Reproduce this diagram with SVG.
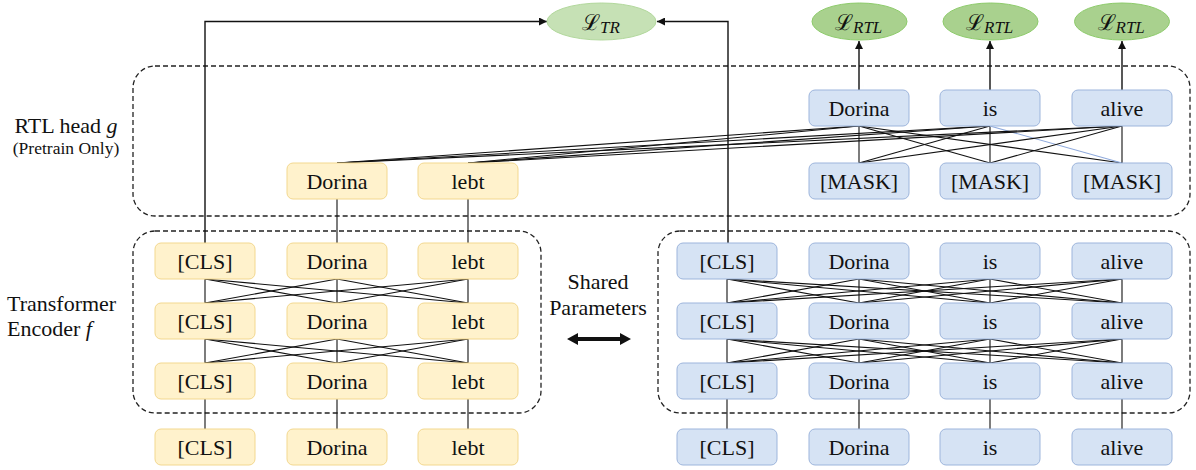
<svg xmlns="http://www.w3.org/2000/svg" width="1196" height="470" viewBox="0 0 1196 470">
<style>
  .txt { font-family: "Liberation Serif", "Times New Roman", serif; font-size: 22px; fill: #111; }
  .small { font-size: 17.5px; }
  .mid { font-size: 20px; }
  .box-y { fill: #fff2cc; stroke: #f3d88f; stroke-width: 1; }
  .box-b { fill: #d6e3f4; stroke: #9db5dc; stroke-width: 1; }
  .lbl { font-family: "Liberation Serif", "Times New Roman", serif; font-size: 22px; fill: #111; text-anchor: middle; }
  .dash { fill: none; stroke: #222; stroke-width: 1.3; stroke-dasharray: 5 3; }
  .ln { stroke: #111; stroke-width: 1.1; fill: none; }
  .arr { stroke: #111; stroke-width: 1.4; fill: none; marker-end: url(#ah); }
  .math { font-family: "DejaVu Serif", "Liberation Serif", serif; font-size: 22px; fill: #111; }
  .sub { font-family: "Liberation Serif", serif; font-style: italic; font-size: 17px; }
</style>
<defs>
  <marker id="ah" viewBox="0 0 10 10" refX="10" refY="5" markerWidth="8" markerHeight="8" markerUnits="userSpaceOnUse" orient="auto">
    <path d="M0,0 L10,5 L0,10 z" fill="#111"/>
  </marker>
</defs>
<rect width="1196" height="470" fill="#ffffff"/>

<!-- side labels -->
<g id="label-rtl-head">
  <text class="txt" x="66" y="133" text-anchor="middle">RTL head <tspan font-style="italic">g</tspan></text>
  <text class="txt small" x="66" y="154" text-anchor="middle">(Pretrain Only)</text>
</g>
<g id="label-encoder">
  <text class="txt" x="7" y="311">Transformer</text>
  <text class="txt" x="7" y="336">Encoder <tspan font-style="italic">f</tspan></text>
</g>
<g id="label-shared">
  <text class="lbl mid" x="598" y="289">Shared</text>
  <text class="lbl mid" x="598" y="315">Parameters</text>
  <polygon points="567,339 578,333 578,337 620,337 620,333 631,339 620,345 620,341 578,341 578,345" fill="#111"/>
</g>

<!-- group containers -->
<g id="rtl-head-container"><rect class="dash" x="133" y="66" width="1057" height="150" rx="22"/></g>
<g id="left-encoder-container"><rect class="dash" x="133" y="231" width="408" height="182" rx="22"/></g>
<g id="right-encoder-container"><rect class="dash" x="658" y="231" width="532" height="182" rx="22"/></g>

<!-- connectors -->
<g id="connectors">
  <!-- to L_TR -->
  <path class="arr" d="M205,243 V21.5 H547"/>
  <path class="arr" d="M728,243 V21.5 H657"/>
  <!-- to L_RTL -->
  <line class="arr" x1="859" y1="90" x2="859" y2="41"/>
  <line class="arr" x1="990" y1="90" x2="990" y2="41"/>
  <line class="arr" x1="1122" y1="90" x2="1122" y2="41"/>

  <!-- RTL head: top row to [MASK] row -->
  <line class="ln" x1="859" y1="126" x2="859" y2="163"/>
  <line class="ln" x1="859" y1="126" x2="990" y2="163"/>
  <line class="ln" x1="859" y1="126" x2="1122" y2="163"/>
  <line class="ln" x1="990" y1="126" x2="859" y2="163"/>
  <line class="ln" x1="990" y1="126" x2="990" y2="163"/>
  <line x1="990" y1="126" x2="1122" y2="163" stroke="#8faadc" stroke-width="1.1"/>
  <line class="ln" x1="1122" y1="126" x2="859" y2="163"/>
  <line class="ln" x1="1122" y1="126" x2="990" y2="163"/>
  <line class="ln" x1="1122" y1="126" x2="1122" y2="163"/>
  <!-- RTL head: top row to yellow boxes -->
  <line class="ln" x1="859" y1="126" x2="337" y2="163"/>
  <line class="ln" x1="990" y1="126" x2="337" y2="163"/>
  <line class="ln" x1="1122" y1="126" x2="337" y2="163"/>
  <line class="ln" x1="859" y1="126" x2="468" y2="163"/>
  <line class="ln" x1="990" y1="126" x2="468" y2="163"/>
  <line class="ln" x1="1122" y1="126" x2="468" y2="163"/>

  <!-- yellow RTL boxes down to left encoder -->
  <line class="ln" x1="337" y1="199" x2="337" y2="243"/>
  <line class="ln" x1="468" y1="199" x2="468" y2="243"/>

  <!-- left encoder layers -->
  <g id="left-l1-l2">
    <line class="ln" x1="205" y1="279" x2="205" y2="303"/>
    <line class="ln" x1="205" y1="279" x2="337" y2="303"/>
    <line class="ln" x1="205" y1="279" x2="468" y2="303"/>
    <line class="ln" x1="337" y1="279" x2="205" y2="303"/>
    <line class="ln" x1="337" y1="279" x2="337" y2="303"/>
    <line class="ln" x1="337" y1="279" x2="468" y2="303"/>
    <line class="ln" x1="468" y1="279" x2="205" y2="303"/>
    <line class="ln" x1="468" y1="279" x2="337" y2="303"/>
    <line class="ln" x1="468" y1="279" x2="468" y2="303"/>
  </g>
  <g id="left-l2-l3">
    <line class="ln" x1="205" y1="339" x2="205" y2="363"/>
    <line class="ln" x1="205" y1="339" x2="337" y2="363"/>
    <line class="ln" x1="205" y1="339" x2="468" y2="363"/>
    <line class="ln" x1="337" y1="339" x2="205" y2="363"/>
    <line class="ln" x1="337" y1="339" x2="337" y2="363"/>
    <line class="ln" x1="337" y1="339" x2="468" y2="363"/>
    <line class="ln" x1="468" y1="339" x2="205" y2="363"/>
    <line class="ln" x1="468" y1="339" x2="337" y2="363"/>
    <line class="ln" x1="468" y1="339" x2="468" y2="363"/>
  </g>
  <!-- left input -->
  <line class="ln" x1="205" y1="399" x2="205" y2="429"/>
  <line class="ln" x1="337" y1="399" x2="337" y2="429"/>
  <line class="ln" x1="468" y1="399" x2="468" y2="429"/>

  <!-- right encoder layers -->
  <g id="right-l1-l2">
    <line class="ln" x1="727" y1="279" x2="727" y2="303"/>
    <line class="ln" x1="727" y1="279" x2="859" y2="303"/>
    <line class="ln" x1="727" y1="279" x2="990" y2="303"/>
    <line class="ln" x1="727" y1="279" x2="1122" y2="303"/>
    <line class="ln" x1="859" y1="279" x2="727" y2="303"/>
    <line class="ln" x1="859" y1="279" x2="859" y2="303"/>
    <line class="ln" x1="859" y1="279" x2="990" y2="303"/>
    <line class="ln" x1="859" y1="279" x2="1122" y2="303"/>
    <line class="ln" x1="990" y1="279" x2="727" y2="303"/>
    <line class="ln" x1="990" y1="279" x2="859" y2="303"/>
    <line class="ln" x1="990" y1="279" x2="990" y2="303"/>
    <line class="ln" x1="990" y1="279" x2="1122" y2="303"/>
    <line class="ln" x1="1122" y1="279" x2="727" y2="303"/>
    <line class="ln" x1="1122" y1="279" x2="859" y2="303"/>
    <line class="ln" x1="1122" y1="279" x2="990" y2="303"/>
    <line class="ln" x1="1122" y1="279" x2="1122" y2="303"/>
  </g>
  <g id="right-l2-l3">
    <line class="ln" x1="727" y1="339" x2="727" y2="363"/>
    <line class="ln" x1="727" y1="339" x2="859" y2="363"/>
    <line class="ln" x1="727" y1="339" x2="990" y2="363"/>
    <line class="ln" x1="727" y1="339" x2="1122" y2="363"/>
    <line class="ln" x1="859" y1="339" x2="727" y2="363"/>
    <line class="ln" x1="859" y1="339" x2="859" y2="363"/>
    <line class="ln" x1="859" y1="339" x2="990" y2="363"/>
    <line class="ln" x1="859" y1="339" x2="1122" y2="363"/>
    <line class="ln" x1="990" y1="339" x2="727" y2="363"/>
    <line class="ln" x1="990" y1="339" x2="859" y2="363"/>
    <line class="ln" x1="990" y1="339" x2="990" y2="363"/>
    <line class="ln" x1="990" y1="339" x2="1122" y2="363"/>
    <line class="ln" x1="1122" y1="339" x2="727" y2="363"/>
    <line class="ln" x1="1122" y1="339" x2="859" y2="363"/>
    <line class="ln" x1="1122" y1="339" x2="990" y2="363"/>
    <line class="ln" x1="1122" y1="339" x2="1122" y2="363"/>
  </g>
  <!-- right input -->
  <line class="ln" x1="727" y1="399" x2="727" y2="429"/>
  <line class="ln" x1="859" y1="399" x2="859" y2="429"/>
  <line class="ln" x1="990" y1="399" x2="990" y2="429"/>
  <line class="ln" x1="1122" y1="399" x2="1122" y2="429"/>
</g>

<!-- loss ellipses -->
<g id="loss-tr">
  <ellipse cx="601.5" cy="21.5" rx="54.5" ry="18.5" fill="#c6e1b5" stroke="#b2d89c" stroke-width="1"/>
  <text class="math" x="582" y="30">ℒ<tspan class="sub" dy="3">TR</tspan></text>
</g>
<g id="loss-rtl-1">
  <ellipse cx="859.5" cy="21.5" rx="47.5" ry="18.5" fill="#a9d18e" stroke="#8dcb6a" stroke-width="1"/>
  <text class="math" x="835" y="30">ℒ<tspan class="sub" dy="3">RTL</tspan></text>
</g>
<g id="loss-rtl-2">
  <ellipse cx="990.5" cy="21.5" rx="47.5" ry="18.5" fill="#a9d18e" stroke="#8dcb6a" stroke-width="1"/>
  <text class="math" x="966" y="30">ℒ<tspan class="sub" dy="3">RTL</tspan></text>
</g>
<g id="loss-rtl-3">
  <ellipse cx="1122" cy="21.5" rx="47.5" ry="18.5" fill="#a9d18e" stroke="#8dcb6a" stroke-width="1"/>
  <text class="math" x="1097.5" y="30">ℒ<tspan class="sub" dy="3">RTL</tspan></text>
</g>

<!-- RTL head nodes -->
<g id="rtl-dorina"><rect class="box-b" x="809" y="90" width="100" height="36" rx="6"/><text class="lbl" x="859" y="116">Dorina</text></g>
<g id="rtl-is"><rect class="box-b" x="940" y="90" width="100" height="36" rx="6"/><text class="lbl" x="990" y="116">is</text></g>
<g id="rtl-alive"><rect class="box-b" x="1072" y="90" width="100" height="36" rx="6"/><text class="lbl" x="1122" y="116">alive</text></g>
<g id="rtl-mask1"><rect class="box-b" x="809" y="163" width="100" height="36" rx="6"/><text class="lbl" x="859" y="189">[MASK]</text></g>
<g id="rtl-mask2"><rect class="box-b" x="940" y="163" width="100" height="36" rx="6"/><text class="lbl" x="990" y="189">[MASK]</text></g>
<g id="rtl-mask3"><rect class="box-b" x="1072" y="163" width="100" height="36" rx="6"/><text class="lbl" x="1122" y="189">[MASK]</text></g>
<g id="rtl-y-dorina"><rect class="box-y" x="287" y="163" width="100" height="36" rx="6"/><text class="lbl" x="337" y="189">Dorina</text></g>
<g id="rtl-y-lebt"><rect class="box-y" x="418" y="163" width="100" height="36" rx="6"/><text class="lbl" x="468" y="189">lebt</text></g>

<!-- Left encoder nodes -->
<g id="l1-cls"><rect class="box-y" x="155" y="243" width="100" height="36" rx="6"/><text class="lbl" x="205" y="269">[CLS]</text></g>
<g id="l1-dorina"><rect class="box-y" x="287" y="243" width="100" height="36" rx="6"/><text class="lbl" x="337" y="269">Dorina</text></g>
<g id="l1-lebt"><rect class="box-y" x="418" y="243" width="100" height="36" rx="6"/><text class="lbl" x="468" y="269">lebt</text></g>
<g id="l2-cls"><rect class="box-y" x="155" y="303" width="100" height="36" rx="6"/><text class="lbl" x="205" y="329">[CLS]</text></g>
<g id="l2-dorina"><rect class="box-y" x="287" y="303" width="100" height="36" rx="6"/><text class="lbl" x="337" y="329">Dorina</text></g>
<g id="l2-lebt"><rect class="box-y" x="418" y="303" width="100" height="36" rx="6"/><text class="lbl" x="468" y="329">lebt</text></g>
<g id="l3-cls"><rect class="box-y" x="155" y="363" width="100" height="36" rx="6"/><text class="lbl" x="205" y="389">[CLS]</text></g>
<g id="l3-dorina"><rect class="box-y" x="287" y="363" width="100" height="36" rx="6"/><text class="lbl" x="337" y="389">Dorina</text></g>
<g id="l3-lebt"><rect class="box-y" x="418" y="363" width="100" height="36" rx="6"/><text class="lbl" x="468" y="389">lebt</text></g>
<g id="in-l-cls"><rect class="box-y" x="155" y="429" width="100" height="36" rx="6"/><text class="lbl" x="205" y="455">[CLS]</text></g>
<g id="in-l-dorina"><rect class="box-y" x="287" y="429" width="100" height="36" rx="6"/><text class="lbl" x="337" y="455">Dorina</text></g>
<g id="in-l-lebt"><rect class="box-y" x="418" y="429" width="100" height="36" rx="6"/><text class="lbl" x="468" y="455">lebt</text></g>

<!-- Right encoder nodes -->
<g id="r1-cls"><rect class="box-b" x="677" y="243" width="100" height="36" rx="6"/><text class="lbl" x="727" y="269">[CLS]</text></g>
<g id="r1-dorina"><rect class="box-b" x="809" y="243" width="100" height="36" rx="6"/><text class="lbl" x="859" y="269">Dorina</text></g>
<g id="r1-is"><rect class="box-b" x="940" y="243" width="100" height="36" rx="6"/><text class="lbl" x="990" y="269">is</text></g>
<g id="r1-alive"><rect class="box-b" x="1072" y="243" width="100" height="36" rx="6"/><text class="lbl" x="1122" y="269">alive</text></g>
<g id="r2-cls"><rect class="box-b" x="677" y="303" width="100" height="36" rx="6"/><text class="lbl" x="727" y="329">[CLS]</text></g>
<g id="r2-dorina"><rect class="box-b" x="809" y="303" width="100" height="36" rx="6"/><text class="lbl" x="859" y="329">Dorina</text></g>
<g id="r2-is"><rect class="box-b" x="940" y="303" width="100" height="36" rx="6"/><text class="lbl" x="990" y="329">is</text></g>
<g id="r2-alive"><rect class="box-b" x="1072" y="303" width="100" height="36" rx="6"/><text class="lbl" x="1122" y="329">alive</text></g>
<g id="r3-cls"><rect class="box-b" x="677" y="363" width="100" height="36" rx="6"/><text class="lbl" x="727" y="389">[CLS]</text></g>
<g id="r3-dorina"><rect class="box-b" x="809" y="363" width="100" height="36" rx="6"/><text class="lbl" x="859" y="389">Dorina</text></g>
<g id="r3-is"><rect class="box-b" x="940" y="363" width="100" height="36" rx="6"/><text class="lbl" x="990" y="389">is</text></g>
<g id="r3-alive"><rect class="box-b" x="1072" y="363" width="100" height="36" rx="6"/><text class="lbl" x="1122" y="389">alive</text></g>
<g id="in-r-cls"><rect class="box-b" x="677" y="429" width="100" height="36" rx="6"/><text class="lbl" x="727" y="455">[CLS]</text></g>
<g id="in-r-dorina"><rect class="box-b" x="809" y="429" width="100" height="36" rx="6"/><text class="lbl" x="859" y="455">Dorina</text></g>
<g id="in-r-is"><rect class="box-b" x="940" y="429" width="100" height="36" rx="6"/><text class="lbl" x="990" y="455">is</text></g>
<g id="in-r-alive"><rect class="box-b" x="1072" y="429" width="100" height="36" rx="6"/><text class="lbl" x="1122" y="455">alive</text></g>
</svg>
